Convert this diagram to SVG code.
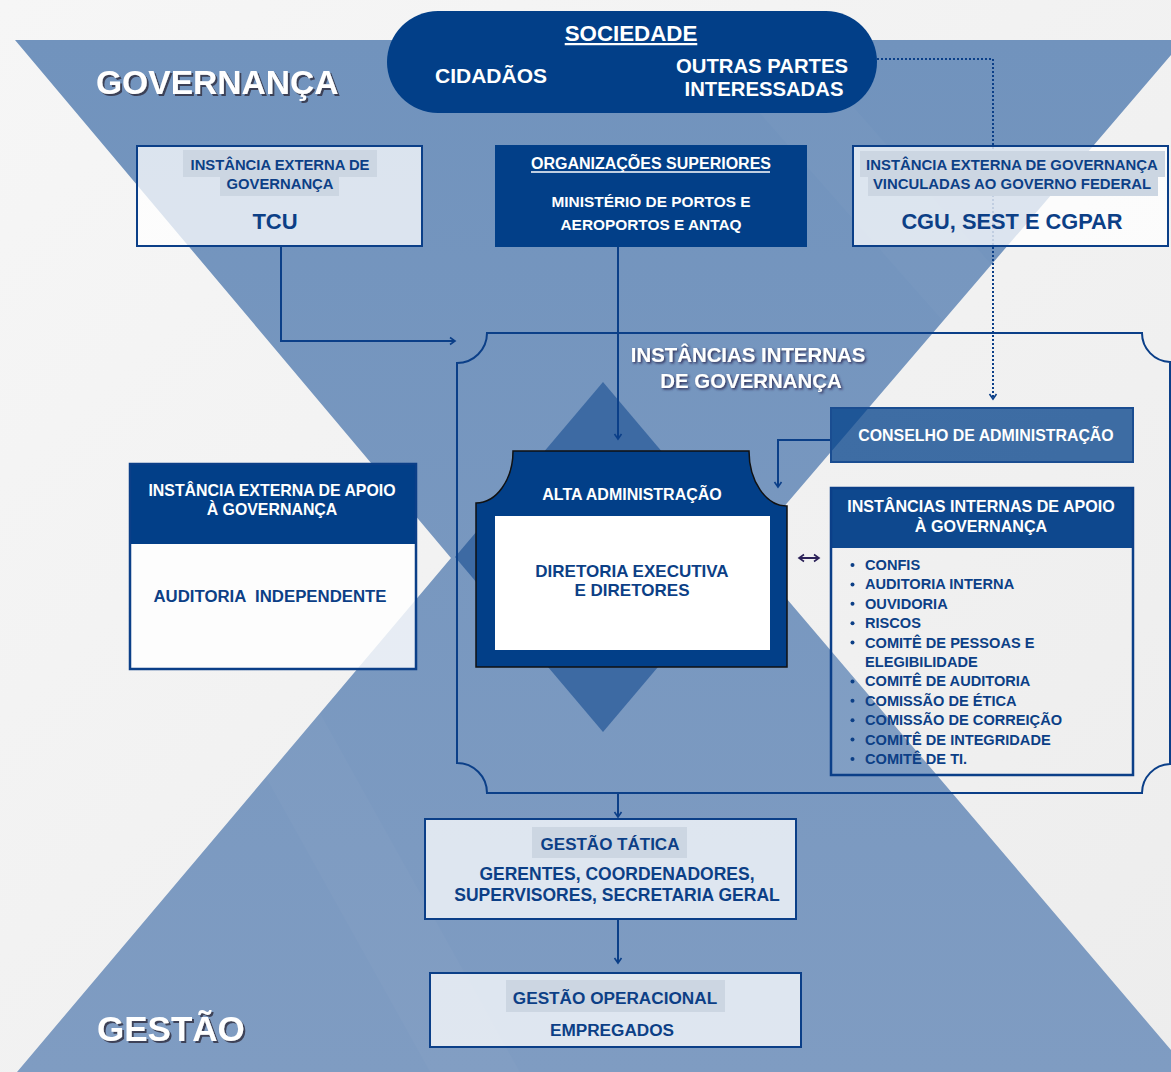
<svg xmlns="http://www.w3.org/2000/svg" width="1171" height="1072" viewBox="0 0 1171 1072">
<defs>
<linearGradient id="bgg" x1="0" y1="0" x2="1" y2="1"><stop offset="0" stop-color="#f6f6f6"/><stop offset="1" stop-color="#ededed"/></linearGradient>
<linearGradient id="blueg" x1="0" y1="0" x2="0" y2="1"><stop offset="0" stop-color="#7193bd"/><stop offset="1" stop-color="#7f9cc2"/></linearGradient>
<filter id="shadow" x="-10%" y="-30%" width="130%" height="170%"><feDropShadow dx="2" dy="2" stdDeviation="0.7" flood-color="#333344" flood-opacity="0.85"/></filter>
<filter id="glow" x="-10%" y="-30%" width="130%" height="170%"><feDropShadow dx="1.5" dy="1.5" stdDeviation="1" flood-color="#2a2050" flood-opacity="0.9"/></filter>
<marker id="arr" markerWidth="10" markerHeight="10" refX="7" refY="5" orient="auto" markerUnits="userSpaceOnUse"><path d="M2,1.5 L7,5 L2,8.5" fill="none" stroke="#0b3f88" stroke-width="1.6"/></marker>
<marker id="arrd" markerWidth="10" markerHeight="10" refX="7" refY="5" orient="auto-start-reverse" markerUnits="userSpaceOnUse"><path d="M2,1.5 L7,5 L2,8.5" fill="none" stroke="#2b2158" stroke-width="1.6"/></marker>
<style>
.t{font-family:"Liberation Sans",Arial,Helvetica,sans-serif;font-weight:bold}
.w{fill:#ffffff}
.b{fill:#0c3f86}
.c{text-anchor:middle}
.dark{fill:#023f88}
.box{fill:#ffffff;fill-opacity:0.75;stroke:#0b3f88;stroke-width:2}
.hl{fill:#ccd6e2}
.conn{fill:none;stroke:#0b3f88;stroke-width:2}
</style>
</defs>

<g id="background">
<rect width="1171" height="1072" fill="url(#bgg)"/>
<polygon points="15,40 1171,40 1171,55 746,551 1171,1050 1171,1072 17,1072 451,558" fill="url(#blueg)"/>
<polygon points="0,300 90,300 520,1072 430,1072" fill="#ffffff" opacity="0.025"/>
<polygon points="660,0 760,0 1171,470 1171,580" fill="#ffffff" opacity="0.025"/>
<polygon points="603,382 751,557 603,732 455,557" fill="#3d6aa3"/>
</g>

<g id="title-governanca"><text class="t w" x="96" y="94" font-size="33.6" filter="url(#shadow)">GOVERNANÇA</text></g>
<g id="title-gestao"><text class="t w" x="97" y="1041" font-size="35" filter="url(#shadow)">GESTÃO</text></g>

<g id="connectors">
<path class="conn" d="M877,59 L993,59 L993,399" stroke="#1e4f92" stroke-dasharray="2 2" marker-end="url(#arr)"/>
<path class="conn" d="M281,246 L281,341 L455,341" marker-end="url(#arr)"/>
<path class="conn" d="M618,247 L618,439" marker-end="url(#arr)"/>
<path class="conn" d="M831,440 L778,440 L778,487" marker-end="url(#arr)"/>
<path class="conn" d="M618,793 L618,817" marker-end="url(#arr)"/>
<path class="conn" d="M618,919 L618,963" marker-end="url(#arr)"/>
<path d="M799,558 L819,558" fill="none" stroke="#2b2158" stroke-width="2" marker-start="url(#arrd)" marker-end="url(#arrd)"/>
</g>

<g id="sociedade">
<rect x="387" y="11" width="490" height="102" rx="51" class="dark"/>
<text class="t w c" x="631" y="41" font-size="22.3" text-decoration="underline">SOCIEDADE</text>
<text class="t w c" x="491" y="83" font-size="21">CIDADÃOS</text>
<text class="t w c" x="762" y="73" font-size="20.3">OUTRAS PARTES</text>
<text class="t w c" x="764" y="96" font-size="20.3">INTERESSADAS</text>
</g>

<g id="tcu">
<rect x="137" y="146" width="285" height="100" class="box"/>
<rect x="183" y="150" width="194" height="27" class="hl"/>
<rect x="220" y="177" width="119" height="19" class="hl"/>
<text class="t b c" x="280" y="170" font-size="14.8">INSTÂNCIA EXTERNA DE</text>
<text class="t b c" x="280" y="189" font-size="14.8">GOVERNANÇA</text>
<text class="t b c" x="275" y="229" font-size="22">TCU</text>
</g>

<g id="organizacoes">
<rect x="495" y="145" width="312" height="102" class="dark"/>
<text class="t w c" x="651" y="169" font-size="16">ORGANIZAÇÕES SUPERIORES</text>
<line x1="531" y1="172" x2="770" y2="172" stroke="#ffffff" stroke-width="1.3"/>
<text class="t w c" x="651" y="207" font-size="15.4">MINISTÉRIO DE PORTOS E</text>
<text class="t w c" x="651" y="230" font-size="15.4">AEROPORTOS E ANTAQ</text>
</g>

<g id="cgu">
<rect x="853" y="146" width="315" height="100" class="box"/>
<rect x="860" y="151" width="305" height="26" class="hl"/>
<rect x="868" y="177" width="290" height="19" class="hl"/>
<text class="t b c" x="1012" y="170" font-size="14.9">INSTÂNCIA EXTERNA DE GOVERNANÇA</text>
<text class="t b c" x="1012" y="189" font-size="14.9">VINCULADAS AO GOVERNO FEDERAL</text>
<text class="t b c" x="1012" y="229" font-size="21.8">CGU, SEST E CGPAR</text>
</g>

<g id="instancias-internas">
<path d="M487,333 L1142,333 A29,29 0 0 0 1170,362 L1170,764 A29,29 0 0 0 1142,793 L487,793 A30,30 0 0 0 457,763 L457,363 A30,30 0 0 0 487,333 Z" fill="none" stroke="#0b3f88" stroke-width="2"/>
<text class="t w c" x="748" y="362" font-size="20.4" filter="url(#glow)">INSTÂNCIAS INTERNAS</text>
<text class="t w c" x="751" y="388" font-size="20.4" filter="url(#glow)">DE GOVERNANÇA</text>
</g>

<g id="conselho">
<rect x="831" y="408" width="302" height="54" fill="#02408a" fill-opacity="0.75" stroke="#1a4d91" stroke-width="2"/>
<text class="t w c" x="986" y="441" font-size="15.9">CONSELHO DE ADMINISTRAÇÃO</text>
</g>

<g id="alta-administracao">
<path d="M513,451 L749,451 A38,55 0 0 0 787,506 L787,667 L476,667 L476,503 A37,52 0 0 0 513,451 Z" fill="#023f88" stroke="#111" stroke-width="1.5"/>
<rect x="495" y="516" width="275" height="134" fill="#ffffff"/>
<text class="t w c" x="632" y="500" font-size="16">ALTA ADMINISTRAÇÃO</text>
<text class="t b c" x="632" y="577" font-size="17">DIRETORIA EXECUTIVA</text>
<text class="t b c" x="632" y="596" font-size="17">E DIRETORES</text>
</g>

<g id="externa-apoio">
<rect x="130" y="544" width="286" height="125" fill="#ffffff" fill-opacity="0.82"/>
<rect x="130" y="464" width="286" height="80" class="dark"/>
<rect x="130" y="464" width="286" height="205" fill="none" stroke="#0b3f88" stroke-width="2.5"/>
<text class="t w c" x="272" y="496" font-size="15.9">INSTÂNCIA EXTERNA DE APOIO</text>
<text class="t w c" x="272" y="515" font-size="15.9">À GOVERNANÇA</text>
<text class="t b c" x="270" y="602" font-size="16.8" style="white-space:pre">AUDITORIA  INDEPENDENTE</text>
</g>

<g id="internas-apoio">
<rect x="831" y="488" width="302" height="60" class="dark"/>
<rect x="831" y="488" width="302" height="287" fill="#ffffff" fill-opacity="0.05" stroke="#0b3f88" stroke-width="2.5"/>
<text class="t w c" x="981" y="512" font-size="16.1">INSTÂNCIAS INTERNAS DE APOIO</text>
<text class="t w c" x="981" y="532" font-size="16.1">À GOVERNANÇA</text>
<g class="b">
<circle cx="852.5" cy="565" r="2"/><circle cx="852.5" cy="584.4" r="2"/><circle cx="852.5" cy="603.8" r="2"/><circle cx="852.5" cy="623.2" r="2"/><circle cx="852.5" cy="642.6" r="2"/><circle cx="852.5" cy="681.4" r="2"/><circle cx="852.5" cy="700.8" r="2"/><circle cx="852.5" cy="720.2" r="2"/><circle cx="852.5" cy="739.6" r="2"/><circle cx="852.5" cy="759" r="2"/>
</g>
<text class="t b" x="865" y="570" font-size="14.6">CONFIS</text>
<text class="t b" x="865" y="589.4" font-size="14.6">AUDITORIA INTERNA</text>
<text class="t b" x="865" y="608.8" font-size="14.6">OUVIDORIA</text>
<text class="t b" x="865" y="628.2" font-size="14.6">RISCOS</text>
<text class="t b" x="865" y="647.6" font-size="14.6">COMITÊ DE PESSOAS E</text>
<text class="t b" x="865" y="667" font-size="14.6">ELEGIBILIDADE</text>
<text class="t b" x="865" y="686.4" font-size="14.6">COMITÊ DE AUDITORIA</text>
<text class="t b" x="865" y="705.8" font-size="14.6">COMISSÃO DE ÉTICA</text>
<text class="t b" x="865" y="725.2" font-size="14.6">COMISSÃO DE CORREIÇÃO</text>
<text class="t b" x="865" y="744.6" font-size="14.6">COMITÊ DE INTEGRIDADE</text>
<text class="t b" x="865" y="764" font-size="14.6">COMITÊ DE TI.</text>
</g>

<g id="gestao-tatica">
<rect x="425" y="819" width="371" height="100" class="box" fill-opacity="0.78"/>
<rect x="532" y="827" width="155" height="31" class="hl"/>
<text class="t b c" x="610" y="850" font-size="17">GESTÃO TÁTICA</text>
<text class="t b c" x="617" y="880" font-size="17.5">GERENTES, COORDENADORES,</text>
<text class="t b c" x="617" y="901" font-size="17.5">SUPERVISORES, SECRETARIA GERAL</text>
</g>

<g id="gestao-operacional">
<rect x="430" y="973" width="371" height="74" class="box" fill-opacity="0.78"/>
<rect x="506" y="980" width="219" height="32" class="hl"/>
<text class="t b c" x="615" y="1004" font-size="17.2">GESTÃO OPERACIONAL</text>
<text class="t b c" x="612" y="1036" font-size="17.2">EMPREGADOS</text>
</g>
</svg>
